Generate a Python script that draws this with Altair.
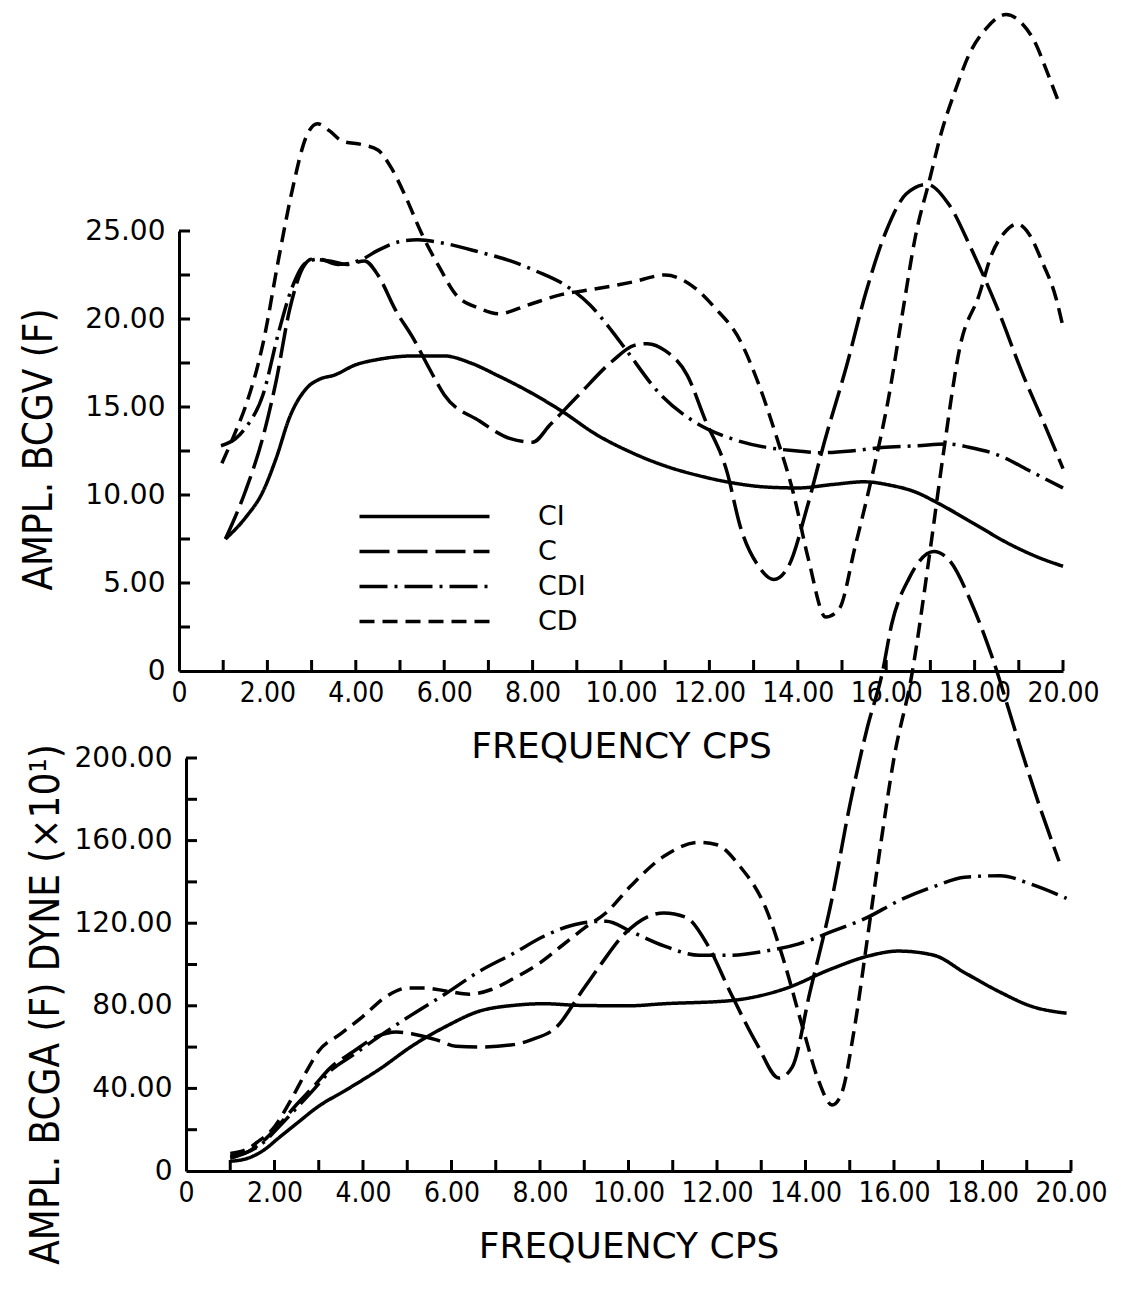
import altair as alt
import pandas as pd

# ---------------- data ----------------
# Top panel: AMPL. BCGV (F) vs frequency (cps)
ci_top_f = [1.05, 1.5, 1.9, 2.2, 2.5, 2.9, 3.2, 3.5, 4.0, 4.5, 5.3, 6.0, 6.6, 7.2, 7.9, 8.7, 9.4,
            10.25, 11.0, 11.76, 12.5, 13.3, 14.0, 14.8, 15.5, 16.1, 16.66, 17.2, 18.0, 18.8, 19.4, 20.0]
ci_top_v = [7.5, 8.7, 10.2, 12.1, 14.4, 16.1, 16.6, 16.8, 17.4, 17.7, 17.9, 17.9, 17.5, 16.8, 15.9, 14.7, 13.5,
            12.4, 11.65, 11.1, 10.7, 10.45, 10.4, 10.6, 10.75, 10.55, 10.17, 9.5, 8.35, 7.2, 6.5, 5.95]

c_top_f = [1.05, 1.5, 1.9, 2.2, 2.5, 2.8, 3.0, 3.4, 3.8, 4.2, 4.5, 4.9, 5.3, 5.66, 6.0, 6.8, 7.5, 8.0, 8.4,
           9.05, 9.8, 10.3, 10.6, 11.0, 11.5, 11.9, 12.4, 12.7, 13.1, 13.46, 13.8, 14.2, 14.6, 15.1, 15.54,
           16.0, 16.45, 16.92, 17.42, 17.94, 18.5, 19.1, 19.6, 20.0]
c_top_v = [7.5, 10.2, 13.3, 16.5, 20.5, 22.9, 23.4, 23.3, 23.1, 23.3, 22.5, 20.5, 18.9, 17.2, 15.7, 14.2, 13.2, 13.0, 14.0,
           15.7, 17.6, 18.5, 18.6, 18.2, 16.8, 14.3, 11.3, 8.2, 6.0, 5.2, 6.0, 9.2, 13.0, 17.3, 21.5,
           25.0, 27.1, 27.65, 26.5, 23.9, 20.7, 16.8, 13.9, 11.5]

cdi_top_f = [0.95, 1.28, 1.5, 1.9, 2.26, 2.56, 2.87, 3.17, 3.6, 4.15, 4.5, 5.0, 5.4, 6.0, 6.8, 7.5, 8.1, 8.75,
             9.3, 9.8, 10.1, 10.86, 11.7, 12.5, 13.3, 14.0, 14.5, 15.2, 15.9, 16.7, 17.4, 17.9, 18.5, 19.3, 20.0]
cdi_top_v = [12.8, 13.2, 13.8, 15.7, 19.3, 21.8, 23.2, 23.4, 23.1, 23.4, 23.9, 24.4, 24.5, 24.3, 23.8, 23.3, 22.7, 21.9,
             20.8, 19.3, 18.3, 15.8, 14.1, 13.2, 12.7, 12.5, 12.4, 12.5, 12.7, 12.8, 12.9, 12.7, 12.3, 11.3, 10.4]

cd_top_f = [0.97, 1.28, 1.5, 1.9, 2.26, 2.56, 2.87, 3.13, 3.4, 3.7, 4.15, 4.5, 4.8, 5.1, 5.5, 5.9, 6.26, 6.8,
            7.24, 7.9, 8.67, 9.4, 10.26, 11.0, 11.6, 12.1, 12.7, 13.1, 13.5, 13.9, 14.25, 14.63, 14.93, 15.3,
            15.7, 16.06, 16.36, 16.67, 16.97, 17.26, 17.58, 17.87, 18.26, 18.71, 19.07, 19.39, 19.6, 19.89]
cd_top_v = [11.8, 13.6, 15.0, 18.6, 23.5, 27.3, 30.3, 31.1, 30.7, 30.1, 29.9, 29.6, 28.6, 27.1, 24.8, 22.9, 21.4, 20.6,
            20.3, 20.8, 21.4, 21.7, 22.1, 22.5, 21.9, 20.7, 18.75, 16.4, 13.45, 10.1, 6.25, 3.07, 3.5, 7.1,
            11.3, 15.6, 20.2, 24.8, 27.8, 30.7, 33.1, 35.0, 36.5, 37.3, 36.8, 35.6, 34.3, 32.4]

# Bottom panel: AMPL. BCGA (F) DYNE (x10^1) vs frequency (cps)
ci_bot_f = [1.0, 1.4, 1.75, 2.1, 2.5, 3.0, 3.6, 4.4, 5.1, 5.9, 6.6, 7.4, 8.1, 8.9, 10.0, 10.8, 12.3, 13.5,
            14.6, 15.4, 16.1, 16.9, 17.6, 18.4, 19.1, 19.9]
ci_bot_v = [4.7, 6.2, 10.0, 16.1, 23.0, 31.4, 39.0, 49.7, 60.4, 70.3, 77.2, 80.2, 81.0, 80.2, 80.0, 81.0, 82.5, 88.0,
            98.0, 104.0, 106.5, 104.5, 96.0, 86.6, 79.8, 76.4]

c_bot_f = [1.0, 1.4, 1.75, 2.1, 2.5, 2.9, 3.25, 3.8, 4.3, 4.76, 5.1, 5.66, 6.1, 6.6, 7.4, 7.8, 8.4, 8.9, 9.35,
           9.9, 10.8, 11.3, 11.8, 12.3, 12.9, 13.4, 13.7, 14.1, 14.6, 15.0, 15.4, 15.73, 15.95, 16.34, 16.9,
           17.24, 17.76, 18.2, 18.8, 19.3, 19.73]
c_bot_v = [6.2, 9.3, 14.6, 22.3, 32.2, 41.3, 49.7, 58.1, 65.0, 67.3, 66.5, 63.5, 60.4, 60.0, 61.2, 63.5, 70.3, 85.6, 99.3,
           114.6, 125.0, 122.8, 109.0, 86.6, 61.6, 45.0, 50.3, 86.6, 132.0, 177.0, 215.0, 240.7, 265.0, 287.0, 300.0,
           296.0, 274.6, 250.0, 209.0, 176.0, 150.0]

cdi_bot_f = [1.0, 1.4, 1.75, 2.1, 2.5, 2.9, 3.25, 3.8, 4.4, 5.1, 5.9, 6.6, 7.4, 8.1, 8.9, 9.5, 10.05, 10.8,
             11.6, 12.3, 13.1, 13.85, 14.6, 15.4, 16.1, 16.9, 17.6, 18.4, 19.1, 19.9]
cdi_bot_v = [7.0, 9.3, 13.8, 21.4, 30.5, 39.8, 48.2, 56.5, 65.7, 75.6, 86.3, 96.3, 105.4, 113.8, 119.9, 121.0, 116.0, 109.0,
             104.5, 104.5, 106.5, 110.0, 116.0, 122.8, 130.8, 137.7, 142.3, 143.0, 138.9, 132.0]

cd_bot_f = [1.0, 1.4, 1.6, 2.0, 2.35, 2.7, 3.0, 3.5, 4.0, 4.5, 5.0, 5.4, 5.9, 6.4, 6.9, 7.4, 8.0, 8.5, 9.0, 9.5,
            10.05, 10.8, 11.6, 12.0, 12.5, 13.1, 13.5, 13.95, 14.3, 14.6, 14.8, 15.1, 15.4, 15.7, 16.0, 16.4,
            16.8, 17.1, 17.5, 17.92, 18.21, 18.53, 18.78, 19.05, 19.34, 19.66, 19.8]
cd_bot_v = [8.5, 10.8, 13.8, 21.4, 33.6, 47.4, 58.1, 66.5, 74.9, 84.1, 88.6, 88.6, 87.1, 85.6, 87.9, 93.2, 100.8, 109.2,
            117.6, 125.2, 138.0, 152.4, 159.2, 158.0, 148.0, 127.4, 102.5, 68.4, 43.5, 32.0, 36.7, 68.4, 112.8, 158.3,
            200.0, 240.0, 298.0, 345.0, 400.0, 424.0, 444.0, 455.2, 458.6, 453.8, 440.7, 422.8, 410.6]

SERIES = ["CI", "C", "CDI", "CD"]
x_label_values = [0, 2, 4, 6, 8, 10, 12, 14, 16, 18, 20]
x_tick_values = list(range(1, 21))
top_label_values = [0, 5, 10, 15, 20, 25]
top_tick_values = [2.5, 5, 7.5, 10, 12.5, 15, 17.5, 20, 22.5, 25]
bot_label_values = [0, 40, 80, 120, 160, 200]
bot_tick_values = [20, 40, 60, 80, 100, 120, 140, 160, 180, 200]

# ---------------- styles ----------------
DASHES = [[1, 0], [30, 8], [28, 7, 3, 7], [15, 8]]
FONT = "DejaVu Sans"
COND = "DejaVu Sans Condensed, DejaVu Sans"
LABEL_EXPR = "datum.value == 0 ? '0' : format(datum.value, '.2f')"
LW = 3.5


def long_frame(items):
    frames = [pd.DataFrame({"f": fs, "v": vs, "series": name}) for name, fs, vs in items]
    return pd.concat(frames, ignore_index=True)


top_df = long_frame([("CI", ci_top_f, ci_top_v), ("C", c_top_f, c_top_v),
                     ("CDI", cdi_top_f, cdi_top_v), ("CD", cd_top_f, cd_top_v)])
bot_df = long_frame([("CI", ci_bot_f, ci_bot_v), ("C", c_bot_f, c_bot_v),
                     ("CDI", cdi_bot_f, cdi_bot_v), ("CD", cd_bot_f, cd_bot_v)])


def panel(df, y_max, y_labels, y_ticks, y_title, width, height, x_range, y_offset, title_x, title_y,
          show_legend):
    x_enc = alt.X("f:Q",
                  scale=alt.Scale(domain=[0, 20], nice=False, zero=False, range=x_range),
                  axis=alt.Axis(values=x_label_values, labelExpr=LABEL_EXPR, title="FREQUENCY CPS",
                                labelFont=COND, labelFontSize=28, labelPadding=8,
                                labelOverlap=False, labelFlush=False,
                                titleFont=FONT, titleFontSize=36, titleY=75, titleBaseline="middle"))
    y_enc = alt.Y("v:Q",
                  scale=alt.Scale(domain=[0, y_max], nice=False, zero=True),
                  axis=alt.Axis(values=y_labels, labelExpr=LABEL_EXPR, title=y_title,
                                labelFont=FONT, labelFontSize=28, labelPadding=14, offset=y_offset,
                                labelOverlap=False, labelFlush=False,
                                titleFont=COND, titleFontSize=40, titleAngle=270, titleAlign="center",
                                titleBaseline="middle", titleX=title_x, titleY=title_y))
    if show_legend:
        leg = alt.Legend(orient="none", legendX=232, legendY=272, title=None,
                         symbolType="M-6.5,0H6.5", symbolSize=400, symbolStrokeWidth=LW,
                         symbolStrokeColor="black", labelFont=FONT, labelFontSize=27,
                         labelColor="black", labelOffset=100, rowPadding=7, padding=0)
    else:
        leg = None
    lines = alt.Chart(df).mark_line(color="black", strokeWidth=LW, interpolate="monotone").encode(
        x=x_enc, y=y_enc,
        strokeDash=alt.StrokeDash("series:N", scale=alt.Scale(domain=SERIES, range=DASHES),
                                  sort=SERIES, legend=leg),
    )
    x0 = x_range[0]
    yticks = alt.Chart(pd.DataFrame({"v": y_ticks})).mark_rule(color="black", strokeWidth=3).encode(
        y=y_enc, x=alt.value(x0), x2=alt.value(x0 + 11))
    xticks = alt.Chart(pd.DataFrame({"f": x_tick_values})).mark_rule(color="black", strokeWidth=3).encode(
        x=x_enc, y=alt.value(height), y2=alt.value(height - 11))
    return alt.layer(lines, yticks, xticks).properties(width=width, height=height)


top = panel(top_df, 25, top_label_values, top_tick_values, "AMPL. BCGV (F)",
            884, 440, [0, 884], 0, -140, 218, True)
bottom = panel(bot_df, 200, bot_label_values, bot_tick_values, "AMPL. BCGA (F) DYNE (×10¹)",
               892, 413, [7, 892], -7, -140, 246, False)

chart = (
    alt.vconcat(top, bottom, spacing=87, bounds="flush")
    .resolve_scale(strokeDash="independent")
    .configure_view(stroke=None)
    .configure_axis(domainColor="black", domainWidth=3, ticks=False, grid=False,
                    labelColor="black", titleColor="black", titleFontWeight="normal")
    .properties(padding={"left": 19, "top": 7, "right": 5, "bottom": 5}, background="white")
)

chart.save("out.html", embed_options={"renderer": "svg", "actions": False})
